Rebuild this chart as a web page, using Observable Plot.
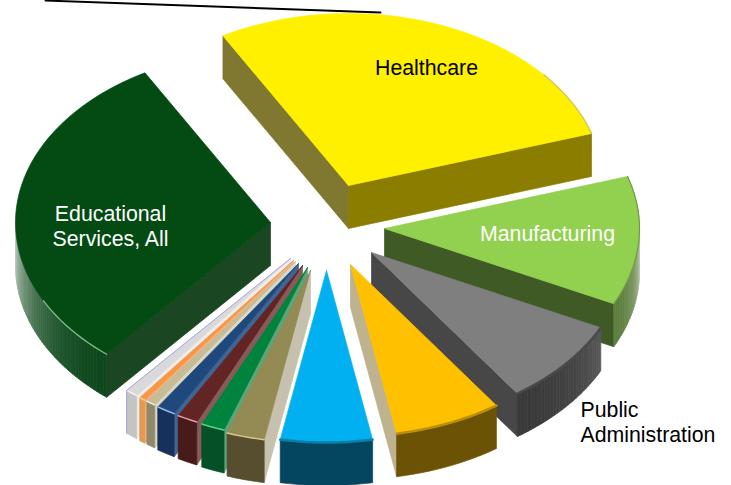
<!DOCTYPE html>
<html>
<head>
<meta charset="utf-8">
<script src="https://cdn.jsdelivr.net/npm/d3@7"></script>
<script src="https://cdn.jsdelivr.net/npm/@observablehq/plot@0.6"></script>
<style>
  html, body { margin: 0; padding: 0; background: #fff; }
  svg { display: block; }
</style>
</head>
<body>
<div id="chart"></div>
<script>
// Employment share by sector, clockwise from the upper-left edge of Healthcare.
const categories = ["Healthcare", "Manufacturing", "Public Administration", "Sector D", "Sector E",
  "Sector F", "Sector G", "Sector H", "Sector I", "Sector J", "Sector K", "Sector L", "Educational Services, All"];
const shares = [28.3, 12.1, 8.1, 6.8, 5.8, 2.4, 1.5, 1.3, 1.2, 0.6, 0.4, 0.8, 30.7];

// Colours of the three visible surfaces of every slice.
const topColors = ["#FFF000", "#92D050", "#7F7F7F", "#FFC000", "#00B0F0",
  "#948A54", "#00843D", "#632523", "#1F497D", "#C4BD97", "#F79646", "#D9D9D9", "#034A13"];
const startWallColors = ["#807830", "#3F5A24", "#474747", "#BFB28F", "#04465F",
  "#C6C1AE", "#5CA57A", "#8A5A5A", "#3F6595", "#DAD7C4", "#F4B183", "#EDEDED", "#1A4622"];
const endWallColors = ["#8B7D00", "#3F5A24", "#474747", "#BFB28F", "#04465F",
  "#C6C1AE", "#5CA57A", "#8A5A5A", "#3F6595", "#DAD7C4", "#F4B183", "#EDEDED", "#1A4622"];
const outerNearColors = ["#807830", "#5F8040", "#3A3A3A", "#6B5205", "#04465F",
  "#574E30", "#055027", "#481A1A", "#16315C", "#8F8A6B", "#E39A50", "#C4C4C4", "#0F481D"];
const outerFarColors = ["#807830", "#DDE3D2", "#5A5A5A", "#6B5205", "#04465F",
  "#574E30", "#055027", "#481A1A", "#16315C", "#8F8A6B", "#E39A50", "#C4C4C4", "#D6E0D6"];
const rimColors = ["#D8CC50", "#6F9A48", "#4A4A4A", "#B98F10", "#0C7FA8",
  "#D4CA8E", "#58D488", "#D8A0A0", "#94BCE4", "#F0EEDD", "#FFC98C", "#F0F0F0", "#7FBF8F"];

// Exploded layout: where each wedge's point sits and how the disc is tilted.
const apexX = [348, 384, 371, 350, 326, 310, 307, 302, 298, 295, 293, 290, 270];
const apexY = [185, 228, 252, 264, 270, 270, 267, 265, 263, 261, 260, 258, 222];
const radiusX = 255, radiusY = 172, depth = 43, startAngle = -29.5;
const paintOrder = [0, 12, 1, 2, 3, 11, 10, 9, 8, 7, 6, 5, 4];

// Leader line running in from the top edge.
const leaderX = [45, 380], leaderY = [0, 12];

const total = d3.sum(shares);
const angles = d3.cumsum([0, ...shares]).map(s => startAngle + s / total * 360);

const surfaces = [], rims = [];
const rad = d => d * Math.PI / 180;
const rimPoint = (i, a, drop = 0) => ({
  x: apexX[i] + radiusX * Math.sin(rad(a)),
  y: apexY[i] - radiusY * Math.cos(rad(a)) + drop
});
const arcPoints = (i, a0, a1, drop = 0) =>
  d3.range(0, 1.0001, 1 / Math.max(2, Math.ceil(Math.abs(a1 - a0) / 2))).map(t => rimPoint(i, a0 + (a1 - a0) * t, drop));
let nextId = 0;
const addSurface = (points, color) => {
  const id = nextId++;
  for (const p of [...points, points[0]]) surfaces.push({...p, id, color});
};
const addRim = (points, color, width) => {
  const id = nextId++;
  for (const p of points) rims.push({...p, id, color, width});
};

for (const i of paintOrder) {
  const a0 = angles[i], a1 = angles[i + 1];
  const apex = {x: apexX[i], y: apexY[i]};
  const apexLow = {x: apexX[i], y: apexY[i] + depth};

  // Side walls along the two straight edges, only where they face the viewer.
  const wall = (a, color) => addSurface([apex, rimPoint(i, a), rimPoint(i, a, depth), apexLow], color);
  if (Math.sin(rad(a0)) < 0) wall(a0, startWallColors[i]);
  if (Math.sin(rad(a1)) > 0) wall(a1, endWallColors[i]);

  // Curved front wall; shaded walls are cut into overlapping strips along the arc.
  const from = Math.max(a0, 90), to = Math.min(a1, 270);
  if (to > from) {
    if (outerNearColors[i] === outerFarColors[i]) {
      addSurface([...arcPoints(i, from, to), ...arcPoints(i, to, from, depth)], outerNearColors[i]);
    } else {
      const nearEnd = a1 > 270 ? from : to;
      const farEnd = a1 > 270 ? to : from;
      const shade = d3.interpolateRgb(outerNearColors[i], outerFarColors[i]);
      const steps = Math.ceil(to - from);
      const order = d3.range(steps);
      if (a1 > 270) order.reverse();
      for (const s of order) {
        const b0 = from + (to - from) * s / steps, b1 = from + (to - from) * (s + 1) / steps;
        const t = (((b0 + b1) / 2) - nearEnd) / (farEnd - nearEnd);
        addSurface([rimPoint(i, b0), rimPoint(i, b1), rimPoint(i, b1, depth), rimPoint(i, b0, depth)], shade(t * t));
      }
    }
  }

  // Top face.
  addSurface([apex, ...arcPoints(i, a0, a1)], topColors[i]);

  // Soft highlight where the top face meets the front wall.
  if (i === 0) addRim(arcPoints(i, 50, a1), rimColors[i], 1.5);
  else if (i === 1) addRim(arcPoints(i, a0, 116), rimColors[i], 1.2);
  else if (i === 12) addRim(arcPoints(i, a0, 243), rimColors[i], 1.3);
  else if (to > from) addRim(arcPoints(i, from, to), rimColors[i], i === 2 || i === 3 || i === 4 ? 2.5 : 1.5);
  if (i === 11) addRim([apex, rimPoint(i, a1), rimPoint(i, a1, depth)], "#A4A4E6", 1);
}

const leader = leaderX.map((x, k) => ({x, y: leaderY[k]}));

// Slice names that are written on the chart.
const labelTexts = ["Healthcare", "Manufacturing", "Public\nAdministration", "Educational\nServices, All"];
const labelX = [426, 547, 580, 110];
const labelY = [66, 232, 421, 225];
const labelColors = ["#000", "#fff", "#000", "#fff"];
const labelAnchors = ["middle", "middle", "start", "middle"];
const labels = labelTexts.map((text, k) => ({text, x: labelX[k], y: labelY[k], color: labelColors[k], anchor: labelAnchors[k]}));

const textMark = rows => Plot.text(rows, {
  x: "x", y: "y", text: "text", fill: "color",
  textAnchor: rows[0].anchor, lineHeight: 1.18, fontSize: 21.3
});

const chart = Plot.plot({
  width: 731,
  height: 485,
  margin: 0,
  x: {domain: [0, 731], axis: null},
  y: {domain: [485, 0], axis: null},
  color: {type: "identity"},
  style: {fontFamily: "'Liberation Sans', Arial, sans-serif", background: "#fff"},
  marks: [
    Plot.line(surfaces, {x: "x", y: "y", z: "id", fill: "color", stroke: "color", strokeWidth: 0.7, curve: "linear"}),
    Plot.line(rims, {x: "x", y: "y", z: "id", stroke: "color", strokeWidth: "width", curve: "linear"}),
    Plot.line(leader, {x: "x", y: "y", stroke: "#000", strokeWidth: 1.9}),
    textMark(labels.filter(d => d.anchor === "middle")),
    textMark(labels.filter(d => d.anchor === "start"))
  ]
});
document.getElementById("chart").append(chart);
</script>
</body>
</html>
